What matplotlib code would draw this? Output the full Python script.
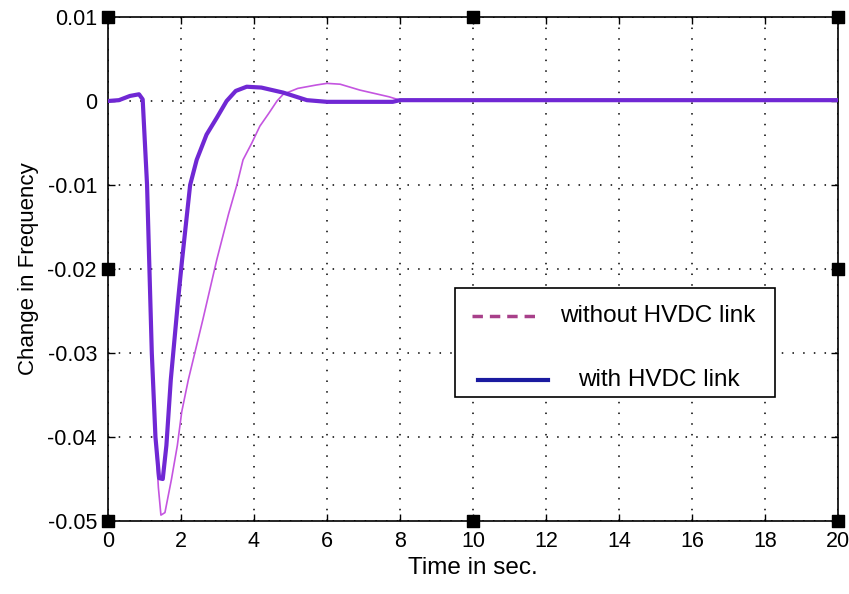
import matplotlib
matplotlib.use("Agg")
import matplotlib.pyplot as plt
from matplotlib.lines import Line2D
from matplotlib.patches import Rectangle

plt.rcParams['font.family'] = ['Liberation Sans', 'DejaVu Sans']

# Data
t_without = [0, 0.3, 0.6, 0.85, 0.95, 1.07, 1.2, 1.3, 1.38, 1.45, 1.56, 1.74, 1.9, 2.02, 2.2,
             2.6, 2.98, 3.3, 3.53, 3.7, 3.94, 4.16, 4.4, 4.63, 4.8, 5.2, 5.7, 6.0, 6.36,
             6.9, 7.3, 7.7, 8.0, 20]
y_without = [0, 0.0001, 0.0006, 0.0008, 0.0002, -0.010, -0.030, -0.040, -0.046, -0.0493,
             -0.049, -0.045, -0.041, -0.037, -0.0332, -0.026, -0.0189, -0.0135, -0.010,
             -0.007, -0.005, -0.003, -0.0015, 0.0, 0.0008, 0.0015, 0.0019, 0.0021, 0.0020,
             0.0013, 0.0009, 0.0005, 0.0001, 0.0001]

t_with = [0, 0.3, 0.6, 0.85, 0.95, 1.07, 1.2, 1.3, 1.4, 1.5, 1.6, 1.72, 1.92, 2.03, 2.25,
          2.43, 2.7, 2.98, 3.25, 3.5, 3.8, 4.2, 4.8, 5.45, 6.0, 7.0, 7.8, 8.0, 20]
y_with = [0, 0.0001, 0.0006, 0.0008, 0.0002, -0.010, -0.030, -0.040, -0.0449, -0.045,
          -0.041, -0.0332, -0.0237, -0.0189, -0.010, -0.007, -0.0040, -0.0020, 0.0,
          0.0012, 0.0017, 0.0016, 0.0010, 0.0001, -0.0001, -0.0001, -0.0001, 0.0001, 0.0001]

x_ticks = [0, 2, 4, 6, 8, 10, 12, 14, 16, 18, 20]
y_ticks = [0.01, 0, -0.01, -0.02, -0.03, -0.04, -0.05]
y_tick_labels = ['0.01', '0', '-0.01', '-0.02', '-0.03', '-0.04', '-0.05']

handle_x = [0, 20, 20, 0, 20, 0, 10, 10]
handle_y = [0.01, 0.01, -0.02, -0.02, -0.05, -0.05, -0.05, 0.01]

fig = plt.figure(figsize=(8.49, 5.94), dpi=100)
ax = fig.add_axes([108/849, 1 - 521/594, 730/849, 504/594])

ax.plot(t_without, y_without, color='#c455e0', lw=1.2, zorder=3)
ax.plot(t_with, y_with, color='#7028d4', lw=3.0, zorder=4)

ax.set_xlim(0, 20)
ax.set_ylim(-0.05, 0.01)
ax.set_xticks(x_ticks)
ax.set_xticklabels([str(v) for v in x_ticks])
ax.set_yticks(y_ticks)
ax.set_yticklabels(y_tick_labels)
ax.tick_params(direction='in', top=True, right=True, labelsize=15.5, length=5, width=1,
               colors='black')
ax.tick_params(axis='x', pad=7)
ax.tick_params(axis='y', pad=8)
ax.grid(True, linestyle=(0, (1, 6)), color='black', lw=1.1)
for s in ax.spines.values():
    s.set_linewidth(1.2)

ax.set_xlabel('Time in sec.', fontsize=17.5, labelpad=4)
ax.set_ylabel('Change in Frequency', fontsize=16, labelpad=6)

ax.scatter(handle_x, handle_y, marker='s', s=70, color='black', clip_on=False, zorder=10)

# Legend box drawn manually in axes fraction coordinates
lx0, lx1 = (455-108)/730, (775-108)/730
ly0, ly1 = (521-397)/504, (521-288)/504
ax.add_patch(Rectangle((lx0, ly0), lx1 - lx0, ly1 - ly0, transform=ax.transAxes,
                       facecolor='white', edgecolor='black', lw=1.2, zorder=6))
ax.add_line(Line2D([(472-108)/730, (540-108)/730], [(521-316)/504]*2, transform=ax.transAxes,
                   color='#a8408a', lw=2.5, linestyle=(0, (3, 2)), zorder=7))
ax.add_line(Line2D([(478-108)/730, (548-108)/730], [(521-380)/504]*2, transform=ax.transAxes,
                   color='#1a1aa0', lw=3.0, zorder=7))
ax.text((560-108)/730, (521-316)/504, 'without HVDC link', transform=ax.transAxes,
        fontsize=17.5, va='center', ha='left', zorder=8)
ax.text((578-108)/730, (521-380)/504, 'with HVDC link', transform=ax.transAxes,
        fontsize=17.5, va='center', ha='left', zorder=8)

fig.savefig('out.png', dpi=100, facecolor='white')
